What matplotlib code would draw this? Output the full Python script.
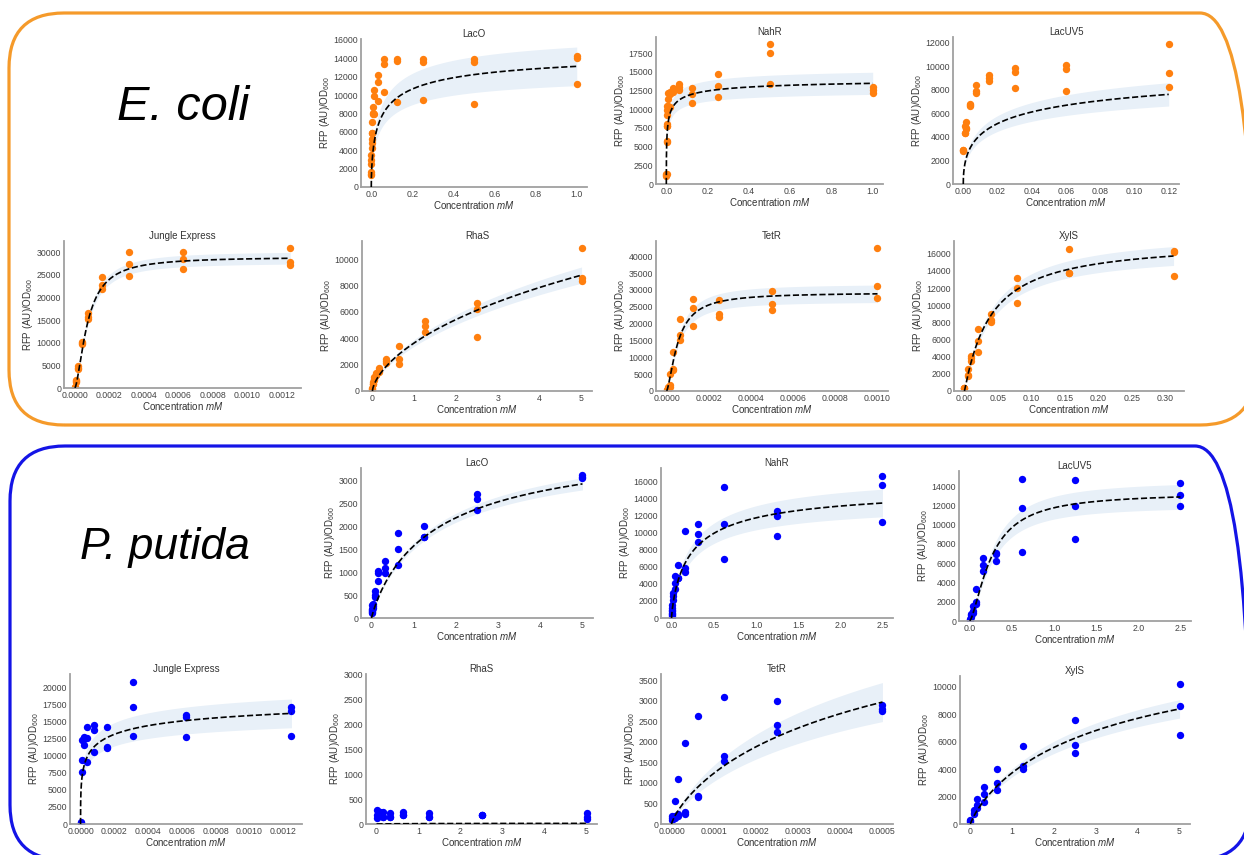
import numpy as np
import matplotlib.pyplot as plt
from matplotlib.patches import FancyBboxPatch
from matplotlib.ticker import MultipleLocator

plt.rcParams['font.family'] = ['Liberation Sans', 'DejaVu Sans']
plt.rcParams['mathtext.fontset'] = 'custom'
plt.rcParams['mathtext.rm'] = 'Liberation Sans'
plt.rcParams['mathtext.it'] = 'Liberation Sans:italic'

# ---- E. coli data (concentration in mM, triplicate RFP/OD600) ----
ec_laco_conc = [1.0, 0.5, 0.25, 0.125, 0.0625, 0.03125, 0.015625, 0.0078125, 0.0039063, 0.0019531, 0.0009766, 0.0]
ec_laco_rfp = [[14250, 14000, 11200], [13900, 13600, 9050], [13900, 13600, 9500], [13950, 13700, 9200],
               [13900, 13350, 10350], [12150, 11450, 9400], [10500, 9850, 7950], [8700, 8050, 7950],
               [7100, 5900, 5900], [5200, 4750, 4200], [3450, 2900, 2550], [1650, 1450, 1300]]

ec_nahr_conc = [1.0, 0.5, 0.25, 0.125, 0.0625, 0.03125, 0.015625, 0.0078125, 0.0039063, 0.0019531, 0.0009766, 0.0]
ec_nahr_rfp = [[12900, 12600, 12150], [18700, 17500, 13300], [14750, 13100, 11600], [12850, 12050, 10800],
               [13300, 12900, 12600], [12800, 12500, 12250], [12350, 12050, 10250], [12150, 11350, 10400],
               [10450, 9950, 9250], [7950, 7750, 7700], [5700, 5650, 1400], [1350, 1150, 1100]]

ec_lacuv5_conc = [0.12, 0.06, 0.03, 0.015, 0.0075, 0.00375, 0.001875, 0.0009375, 0.0]
ec_lacuv5_rfp = [[11900, 9450, 8250], [10150, 9800, 7900], [9900, 9550, 8150], [9300, 9000, 8800],
                 [8400, 7900, 7750], [6850, 6700, 6600], [5250, 4800, 4700], [4900, 4350, 4300],
                 [2900, 2850, 2900]]

ec_jungle_conc = [0.00125, 0.000625, 0.0003125, 0.00015625, 0.000078125, 0.000039063, 0.000019531, 0.0000097656, 0.0]
ec_jungle_rfp = [[30900, 27900, 27200], [30000, 28500, 26200], [30000, 27500, 24800], [24500, 22800, 21800],
                 [16500, 15800, 15200], [10100, 9800, 9900], [4900, 4400, 4200], [1850, 1350, 1500],
                 [150, 100, 200]]

ec_rhas_conc = [5.0, 2.5, 1.25, 0.625, 0.3125, 0.15625, 0.078125, 0.0390625, 0.0195313, 0.0]
ec_rhas_rfp = [[10850, 8600, 8350], [6700, 6250, 4100], [5300, 4900, 4500], [3400, 2400, 2050],
               [2450, 2300, 2150], [1750, 1600, 1450], [1350, 1200, 1250], [1050, 800, 900],
               [650, 500, 550], [200, 150, 100]]

ec_tetr_conc = [0.001, 0.0005, 0.00025, 0.000125, 0.0000625, 0.00003125, 0.000015625, 0.0000078125, 0.0]
ec_tetr_rfp = [[42500, 31200, 27700], [29600, 25900, 23900], [27100, 22900, 22000], [27400, 24700, 19200],
               [21500, 16500, 15000], [11600, 6600, 6100], [4900, 1700, 1200], [1200, 700, 500],
               [400, 300, 200]]

ec_xyls_conc = [0.3125, 0.15625, 0.078125, 0.0390625, 0.0195313, 0.0097656, 0.0048828, 0.0]
ec_xyls_rfp = [[16300, 16150, 13450], [16600, 13750, 13700], [13200, 12000, 10300], [9000, 8300, 8000],
               [7200, 5800, 4500], [4100, 3800, 3500], [2550, 1850, 1800], [400, 350, 300]]

# ---- P. putida data ----
pp_laco_conc = [5.0, 2.5, 1.25, 0.625, 0.3125, 0.15625, 0.078125, 0.0390625, 0.0195313, 0.0]
pp_laco_rfp = [[3130, 3090, 3060], [2710, 2610, 2350], [2010, 1770, 1760], [1860, 1510, 1160],
               [1240, 1090, 980], [1030, 980, 800], [580, 510, 450], [300, 255, 220],
               [290, 200, 180], [150, 120, 130]]

pp_nahr_conc = [2.5, 1.25, 0.625, 0.3125, 0.15625, 0.078125, 0.0390625, 0.0195313, 0.0097656, 0.0048828, 0.0]
pp_nahr_rfp = [[16650, 15550, 11200], [12500, 11900, 9650], [15300, 10950, 6950], [10950, 9850, 8900],
               [10200, 5850, 5350], [6150, 4700, 4650], [4900, 4100, 3450], [2950, 2550, 2150],
               [1550, 1200, 900], [800, 600, 500], [300, 150, 100]]

pp_lacuv5_conc = [2.5, 1.25, 0.625, 0.3125, 0.15625, 0.078125, 0.0390625, 0.0195313, 0.0]
pp_lacuv5_rfp = [[14300, 13050, 11900], [14600, 11900, 8550], [14750, 11700, 7200], [7100, 7000, 6200],
                 [6550, 5850, 5150], [3300, 1950, 1800], [1550, 1050, 850], [750, 600, 400],
                 [250, 150, 100]]

pp_jungle_conc = [0.00125, 0.000625, 0.0003125, 0.00015625, 0.000078125, 0.000039063, 0.000019531, 0.0000097656, 0.0]
pp_jungle_rfp = [[17200, 16600, 12900], [16000, 15700, 12700], [20900, 17100, 12900], [14200, 11350, 11200],
                 [14500, 13800, 10600], [14300, 12650, 9150], [12700, 11600, 12400], [12300, 9400, 7650],
                 [250, 200, 150]]

pp_rhas_conc = [5.0, 2.5, 1.25, 0.625, 0.3125, 0.15625, 0.078125, 0.0]
pp_rhas_rfp = [[215, 150, 100], [190, 190, 185], [215, 150, 140], [235, 185, 175],
               [215, 150, 140], [245, 150, 140], [245, 180, 170], [280, 180, 115]]

pp_tetr_conc = [0.0005, 0.00025, 0.000125, 0.0000625, 0.00003125, 0.000015625, 0.0000078125, 0.0]
pp_tetr_rfp = [[2900, 2800, 2750], [2990, 2420, 2250], [3080, 1650, 1530], [2620, 680, 650],
               [1970, 300, 250], [1100, 250, 200], [570, 200, 150], [200, 100, 150]]

pp_xyls_conc = [5.0, 2.5, 1.25, 0.625, 0.3125, 0.15625, 0.078125, 0.0]
pp_xyls_rfp = [[10200, 8600, 6500], [7600, 5800, 5200], [5700, 4200, 4000], [4000, 3000, 2500],
               [2700, 2200, 1600], [1800, 1400, 1200], [1000, 800, 700], [300, 200, 150]]

# Hill fit parameters: (vmax, K, n, relative band half-width)
ec_fits = {'LacO': (15300, 0.05, 0.6, 0.16), 'NahR': (14400, 0.005, 0.5, 0.11),
           'LacUV5': (11440, 0.03, 0.5, 0.13), 'Jungle Express': (29000, 0.000075, 1.6, 0.045),
           'RhaS': (37000, 30.0, 0.65, 0.07), 'TetR': (29200, 0.000055, 1.5, 0.09),
           'XylS': (17500, 0.039, 1.05, 0.07)}
pp_fits = {'LacO': (3980, 1.6, 0.9, 0.045), 'NahR': (15590, 0.25, 0.8, 0.12),
           'LacUV5': (13300, 0.26, 1.5, 0.1), 'Jungle Express': (20700, 0.00005, 0.4, 0.13),
           'RhaS': (15, 1.0, 1.0, 0.5), 'TetR': (6400, 0.0006, 0.8, 0.16),
           'XylS': (14600, 3.5, 0.85, 0.08)}

W, H = 1244, 855
fig = plt.figure(figsize=(W / 100, H / 100), dpi=100)

# background layer in pixel units (y measured from the top) for frames and species names
bg = fig.add_axes([0, 0, 1, 1], zorder=-5)
bg.set_xlim(0, W)
bg.set_ylim(0, H)
bg.axis('off')


def frame(x0, y0, x1, y1, colour):
    box = FancyBboxPatch((x0, H - y1), x1 - x0, y1 - y0, boxstyle='round,pad=0,rounding_size=55',
                         fc='none', ec=colour, lw=2.3, clip_on=False)
    bg.add_patch(box)


frame(9, 13, 1255, 425, '#f59a2a')
frame(10, 446, 1250, 860, '#1414e6')
bg.text(183, H - 108, 'E. coli', fontsize=35, style='italic', ha='center', va='center', color='black')
bg.text(165, H - 548, 'P. putida', fontsize=32, style='italic', ha='center', va='center', color='black')


def hill(x, vmax, k, n):
    return vmax * x ** n / (k ** n + x ** n)


def add_panel(rect, title, conc, rfp, fit, colour, ytop, ystep, xstep):
    l, r, t, b = rect
    ax = fig.add_axes([l / W, 1 - b / H, (r - l) / W, (b - t) / H])
    x = np.repeat(conc, [len(v) for v in rfp])
    y = np.concatenate(rfp)
    vmax, k, n, band = fit
    xmax = max(conc)
    xmin = min(c for c in conc if c > 0)
    xb = np.geomspace(xmin, xmax, 300)
    yb = hill(xb, vmax, k, n)
    ax.fill_between(xb, yb * (1 - band), yb * (1 + band), color='#e8f0f8', lw=0, zorder=1)
    ax.scatter(x, y, s=28, color=colour, lw=0, zorder=2)
    xc = np.concatenate([[0], np.geomspace(xmax * 1e-6, xmax, 500)])
    ax.plot(xc, hill(xc, vmax, k, n), '--', color='black', lw=1.2, zorder=3)
    ax.set_xlim(-0.05 * xmax, 1.05 * xmax)
    ax.set_ylim(0, ytop)
    ax.xaxis.set_major_locator(MultipleLocator(xstep))
    ax.yaxis.set_major_locator(MultipleLocator(ystep))
    ax.tick_params(length=0, labelsize=6.3, colors='#444444', pad=2)
    for s in ['top', 'right']:
        ax.spines[s].set_visible(False)
    for s in ['left', 'bottom']:
        ax.spines[s].set_color('#a0a0a0')
        ax.spines[s].set_linewidth(1.3)
    ax.set_title(title, fontsize=7, color='#333333', pad=1.5)
    ax.set_xlabel('Concentration $mM$', fontsize=7, color='#333333', labelpad=0)
    ax.set_ylabel('RFP (AU)/OD$_{600}$', fontsize=7, color='#333333', labelpad=1)
    return ax


orange = '#ff7f0e'
blue = '#0000ff'

add_panel((361, 587, 39, 187), 'LacO', ec_laco_conc, ec_laco_rfp, ec_fits['LacO'], orange, 16100, 2000, 0.2)
add_panel((656, 883, 37, 184), 'NahR', ec_nahr_conc, ec_nahr_rfp, ec_fits['NahR'], orange, 19640, 2500, 0.2)
add_panel((953, 1179, 37, 184), 'LacUV5', ec_lacuv5_conc, ec_lacuv5_rfp, ec_fits['LacUV5'], orange, 12510, 2000, 0.02)
add_panel((64, 301, 241, 388), 'Jungle Express', ec_jungle_conc, ec_jungle_rfp, ec_fits['Jungle Express'], orange, 32500, 5000, 0.0002)
add_panel((362, 592, 241, 391), 'RhaS', ec_rhas_conc, ec_rhas_rfp, ec_fits['RhaS'], orange, 11390, 2000, 1)
add_panel((656, 888, 241, 391), 'TetR', ec_tetr_conc, ec_tetr_rfp, ec_fits['TetR'], orange, 44500, 5000, 0.0002)
add_panel((954, 1184, 241, 391), 'XylS', ec_xyls_conc, ec_xyls_rfp, ec_fits['XylS'], orange, 17480, 2000, 0.05)

add_panel((361, 593, 468, 618), 'LacO', pp_laco_conc, pp_laco_rfp, pp_fits['LacO'], blue, 3277, 500, 1)
add_panel((661, 893, 468, 618), 'NahR', pp_nahr_conc, pp_nahr_rfp, pp_fits['NahR'], blue, 17560, 2000, 0.5)
add_panel((959, 1191, 471, 621), 'LacUV5', pp_lacuv5_conc, pp_lacuv5_rfp, pp_fits['LacUV5'], blue, 15560, 2000, 0.5)
add_panel((70, 302, 674, 824), 'Jungle Express', pp_jungle_conc, pp_jungle_rfp, pp_fits['Jungle Express'], blue, 22000, 2500, 0.0002)
add_panel((366, 597, 674, 824), 'RhaS', pp_rhas_conc, pp_rhas_rfp, pp_fits['RhaS'], blue, 3000, 500, 1)
add_panel((661, 893, 674, 824), 'TetR', pp_tetr_conc, pp_tetr_rfp, pp_fits['TetR'], blue, 3650, 500, 0.0001)
add_panel((960, 1190, 676, 824), 'XylS', pp_xyls_conc, pp_xyls_rfp, pp_fits['XylS'], blue, 10800, 2000, 1)

fig.savefig('out.png', dpi=100)
